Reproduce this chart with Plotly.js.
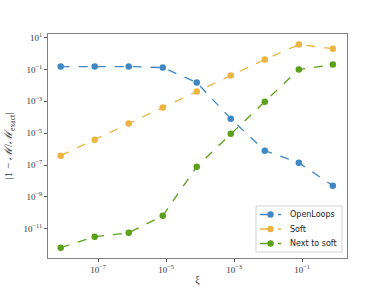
<!DOCTYPE html>
<html><head><meta charset="utf-8">
<script src="https://cdn.plot.ly/plotly-3.0.1.min.js"></script>
<style>html,body{margin:0;padding:0;background:#fff}#c{width:386px;height:290px}</style>
</head><body><div id="c"></div>
<script>
const xi = [8e-9, 8e-8, 8e-7, 8e-6, 8e-5, 8e-4, 8e-3, 8e-2, 8e-1];
const openLoops = [0.15, 0.15, 0.15, 0.13, 0.015, 8.1e-5, 8e-7, 1.4e-7, 5e-9];
const soft = [3.9e-7, 3.9e-6, 4e-5, 4e-4, 4.1e-3, 4.1e-2, 0.42, 3.6, 2.0];
const nextToSoft = [6.5e-13, 3.2e-12, 5.6e-12, 6.6e-11, 7.9e-8, 9.3e-6, 9.5e-4, 9.8e-2, 0.2];
const seriesNames = ['OpenLoops', 'Soft', 'Next to soft'];
const seriesColors = ['#3f88c5', '#ecb443', '#5aa01a'];
const xTicks = [1e-7, 1e-5, 1e-3, 1e-1];
const xTickText = ['10<sup>−7</sup>', '10<sup>−5</sup>', '10<sup>−3</sup>', '10<sup>−1</sup>'];
const yTicks = [1e1, 1e-1, 1e-3, 1e-5, 1e-7, 1e-9, 1e-11];
const yTickText = ['10<sup>1</sup>', '10<sup>−1</sup>', '10<sup>−3</sup>', '10<sup>−5</sup>', '10<sup>−7</sup>', '10<sup>−9</sup>', '10<sup>−11</sup>'];

const W = 386, H = 290, M = {l: 48, r: 39, t: 34, b: 32};
const PW = W - M.l - M.r, PH = H - M.t - M.b;
const px = x => (x - M.l) / PW;
const py = y => (H - M.b - y) / PH;

const ys = [openLoops, soft, nextToSoft];
const data = ys.map((y, i) => ({x: xi, y: y, name: seriesNames[i], type: 'scatter', mode: 'lines+markers',
  line: {color: seriesColors[i], width: 1.3, dash: 'dash'},
  marker: {color: seriesColors[i], size: 6.5}}));

// custom compact legend (matplotlib style)
const shapes = [{type: 'rect', xref: 'paper', yref: 'paper', layer: 'above',
  x0: px(256), x1: px(342), y0: py(252), y1: py(206),
  fillcolor: 'rgba(255,255,255,0.9)', line: {color: '#d3d3d3', width: 1}}];
const annotations = [];
seriesNames.forEach((n, i) => {
  const cy = 214.5 + i * 14.5;
  shapes.push({type: 'line', xref: 'paper', yref: 'paper', layer: 'above',
    x0: px(260), x1: px(281), y0: py(cy), y1: py(cy),
    line: {color: seriesColors[i], width: 1.3, dash: 'dash'}});
  shapes.push({type: 'circle', xref: 'paper', yref: 'paper', layer: 'above',
    xsizemode: 'pixel', ysizemode: 'pixel', xanchor: px(270.5), yanchor: py(cy),
    x0: -3.2, x1: 3.2, y0: -3.2, y1: 3.2,
    fillcolor: seriesColors[i], line: {width: 0}});
  annotations.push({xref: 'paper', yref: 'paper', x: px(288), y: py(cy),
    xanchor: 'left', yanchor: 'middle', showarrow: false, text: n,
    font: {family: 'DejaVu Sans, sans-serif', size: 8, color: '#222'}});
});

const axisCommon = {showgrid: false, zeroline: false, showline: true, mirror: true,
  linecolor: '#808080', linewidth: 1, ticks: 'outside', ticklen: 3, tickcolor: '#555',
  tickfont: {family: 'Liberation Serif, serif', size: 9, color: '#333'}};
const layout = {
  width: W, height: H, margin: M,
  paper_bgcolor: '#fff', plot_bgcolor: '#fff',
  showlegend: false,
  shapes: shapes, annotations: annotations,
  xaxis: Object.assign({}, axisCommon, {type: 'log', range: [-8.47, 0.32],
    tickvals: xTicks, ticktext: xTickText,
    title: {text: 'ξ', font: {family: 'Liberation Serif, serif', size: 10, color: '#333'}, standoff: 2}}),
  yaxis: Object.assign({}, axisCommon, {type: 'log', range: [-12.83, 1.22],
    tickvals: yTicks, ticktext: yTickText,
    title: {text: '|1 − <i>ℳ</i>/<i>ℳ</i><sub>exact</sub>|', font: {family: 'Liberation Serif, serif', size: 11, color: '#333'}, standoff: 8}})
};
Plotly.newPlot('c', data, layout, {displayModeBar: false, staticPlot: true});
</script></body></html>
